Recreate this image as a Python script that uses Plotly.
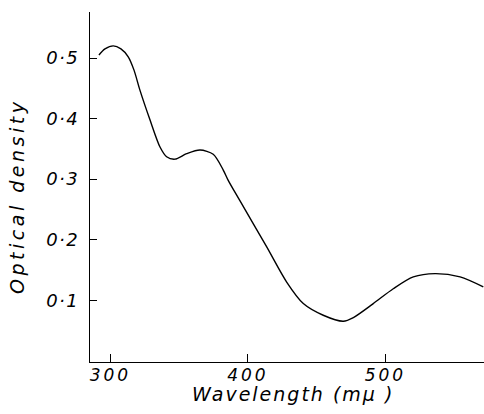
import plotly.graph_objects as go

wavelength = [291.7, 296.1, 302.1, 307.7, 313.0, 317.2, 321.5, 328.8, 336.1, 340.9,
              347.0, 355.5, 365.2, 374.8, 382.1, 385.7, 394.3, 413.7, 428.2, 440.3,
              454.8, 469.4, 476.7, 491.2, 505.7, 520.3, 536.1, 554.3, 571.2]
optical_density = [0.505, 0.515, 0.520, 0.515, 0.502, 0.480, 0.447, 0.398, 0.353, 0.337,
                   0.333, 0.342, 0.348, 0.341, 0.315, 0.298, 0.264, 0.188, 0.130, 0.0945,
                   0.0752, 0.0653, 0.0714, 0.0945, 0.119, 0.1385, 0.144, 0.1385, 0.122]

x_ticks = [300, 400, 500]
x_tick_labels = ["300", "400", "500"]
y_ticks = [0.1, 0.2, 0.3, 0.4, 0.5]
y_tick_labels = ["0·1", "0·2", "0·3", "0·4", "0·5"]
x_title = "Wavelength (mμ )"
y_title = "Optical density"

FONT = "DejaVu Sans"


def spaced(text, px):
    return f'<span style="letter-spacing:{px}px">{text}</span>'


fig = go.Figure()
fig.add_trace(go.Scatter(
    x=wavelength, y=optical_density, mode="lines",
    line=dict(color="black", width=1.4, shape="spline", smoothing=0.8),
    showlegend=False, hoverinfo="skip",
))

fig.update_layout(
    width=484, height=414,
    margin=dict(l=90, r=0, t=12, b=52, autoexpand=False),
    paper_bgcolor="white", plot_bgcolor="white",
    font=dict(family=FONT, color="black"),
    xaxis=dict(
        range=[285.2, 571.7], automargin=False,
        tickmode="array", tickvals=x_ticks,
        ticktext=[spaced(t, 3) for t in x_tick_labels],
        ticks="inside", ticklen=8, tickwidth=1.2, tickcolor="black",
        showline=True, linecolor="black", linewidth=1.2,
        showgrid=False, zeroline=False,
        tickfont=dict(family=FONT, size=17, style="italic", color="black"),
        ticklabelstandoff=-3,
    ),
    yaxis=dict(
        range=[-0.002, 0.576], automargin=False,
        tickmode="array", tickvals=y_ticks,
        ticktext=[spaced(t, 1.5) for t in y_tick_labels],
        ticks="inside", ticklen=7, tickwidth=1.2, tickcolor="black",
        showline=True, linecolor="black", linewidth=1.2,
        showgrid=False, zeroline=False,
        tickfont=dict(family=FONT, size=18, style="italic", color="black"),
        ticklabelstandoff=6,
    ),
    annotations=[
        dict(text=spaced(x_title, 2), xref="paper", yref="paper",
             x=0.515, y=-0.09, xanchor="center", yanchor="middle", showarrow=False,
             font=dict(family=FONT, size=19, style="italic", color="black")),
        dict(text=spaced(y_title, 3.5), xref="paper", yref="paper",
             x=-0.185, y=0.472, xanchor="center", yanchor="middle", showarrow=False,
             textangle=-90,
             font=dict(family=FONT, size=19, style="italic", color="black")),
    ],
)

fig.write_html(
    "out.html",
    config={"displayModeBar": False},
    post_script="document.body.style.margin='0';document.body.style.overflow='hidden';",
)
